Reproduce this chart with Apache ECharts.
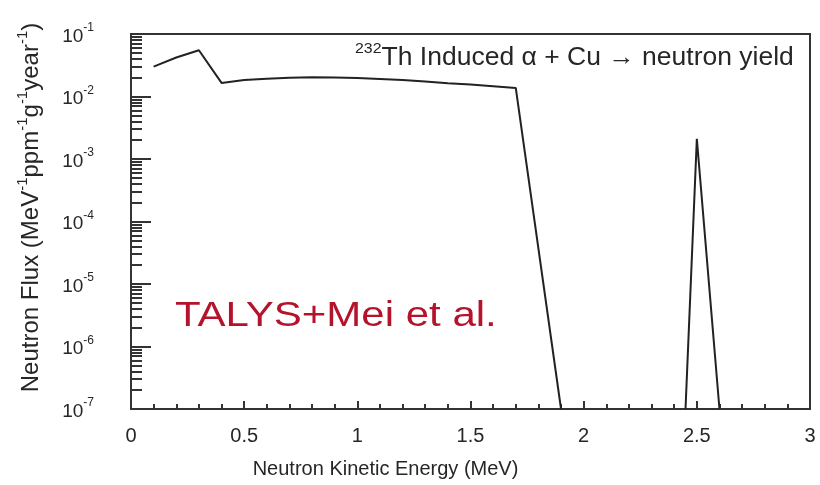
<!DOCTYPE html>
<html>
<head>
<meta charset="utf-8">
<script src="https://cdn.jsdelivr.net/npm/echarts@6/dist/echarts.min.js"></script>
<style>html,body{margin:0;padding:0;background:#fff}#c{width:820px;height:485px}</style>
</head>
<body>
<div id="c"></div>
<script>
// Data (energy in MeV, flux in MeV^-1 ppm^-1 g^-1 year^-1)
var energy = [0.1, 0.2, 0.3, 0.4, 0.5, 0.6, 0.7, 0.8, 0.9, 1.0, 1.1, 1.2, 1.3, 1.4, 1.5, 1.6, 1.7, 1.9, 2.2, 2.45, 2.5, 2.6];
var flux   = [0.030, 0.042, 0.055, 0.0165, 0.0183, 0.0193, 0.0200, 0.0204, 0.0202, 0.0197, 0.0190, 0.0183, 0.0173, 0.0163, 0.0155, 0.0146, 0.0137, 1e-7, null, 1e-7, 0.0021, 1e-7];
var xTickLabels = ['0', '0.5', '1', '1.5', '2', '2.5', '3'];
var yExponents = [-7, -6, -5, -4, -3, -2, -1];
var titleSup = '232';
var titleMain = 'Th Induced \u03b1 + Cu \u2192 neutron yield';
var annotation = 'TALYS+Mei et al.';

var FONT = "'Liberation Sans', Arial, Helvetica, sans-serif";
var TXT = '#262626';

var seriesData = energy.map(function (e, i) { return [e, flux[i] === null ? '-' : flux[i]]; });
var majorY = yExponents.map(function (p) { return Math.pow(10, p); });
var minorY = [];
yExponents.slice(0, -1).forEach(function (p) {
  for (var m = 2; m <= 9; m++) minorY.push(m * Math.pow(10, p));
});

var chart = echarts.init(document.getElementById('c'), null, { renderer: 'canvas' });
chart.setOption({
  animation: false,
  backgroundColor: '#fff',
  textStyle: { fontFamily: FONT },
  grid: { left: 131, top: 34, right: 10, bottom: 76, show: true, borderColor: '#333', borderWidth: 2, backgroundColor: 'transparent' },
  xAxis: {
    type: 'value', min: 0, max: 3, interval: 0.5,
    axisLine: { show: true, lineStyle: { color: '#333', width: 2 } },
    axisTick: { show: true, inside: true, length: 8, lineStyle: { color: '#333', width: 2 } },
    minorTick: { show: true, splitNumber: 5, length: 5, lineStyle: { color: '#333', width: 2 } },
    splitLine: { show: false },
    axisLabel: {
      margin: 17, fontSize: 20, color: TXT, fontFamily: FONT,
      formatter: function (v) { var i = Math.round(v / 0.5); return xTickLabels[i]; }
    },
    name: 'Neutron Kinetic Energy (MeV)',
    nameLocation: 'middle', nameGap: 50,
    nameTextStyle: { fontSize: 20, color: TXT, fontFamily: FONT, padding: [0, 170, 0, 0] }
  },
  yAxis: [{
    type: 'log', logBase: 10, min: 1e-7, max: 1e-1,
    axisLine: { show: true, lineStyle: { color: '#333', width: 2 } },
    axisTick: { show: true, inside: true, length: 20, customValues: majorY, lineStyle: { color: '#333', width: 2 } },
    splitLine: { show: false },
    axisLabel: {
      margin: 37, color: TXT, fontFamily: FONT,
      formatter: function (v) { return '{b|10}{s|' + Math.round(Math.log10(v)) + '}'; },
      rich: {
        b: { fontSize: 19, color: TXT, fontFamily: FONT, verticalAlign: 'bottom', lineHeight: 24 },
        s: { fontSize: 12, color: TXT, fontFamily: FONT, verticalAlign: 'top', lineHeight: 13 }
      }
    },
    name: '{n|Neutron Flux (MeV}{s|-1}{n|ppm}{s|-1}{n|g}{s|-1}{n|year}{s|-1}{n|)}',
    nameLocation: 'middle', nameGap: 88, nameRotate: 90,
    nameTextStyle: {
      color: TXT, fontFamily: FONT, padding: [0, 0, 0, 28],
      rich: {
        n: { fontSize: 24, color: TXT, fontFamily: FONT, verticalAlign: 'bottom', lineHeight: 28 },
        s: { fontSize: 15, color: TXT, fontFamily: FONT, verticalAlign: 'top', lineHeight: 15 }
      }
    }
  }, {
    type: 'log', logBase: 10, min: 1e-7, max: 1e-1, position: 'left',
    axisLine: { show: false },
    axisTick: { show: true, inside: true, length: 11, customValues: minorY, lineStyle: { color: '#333', width: 2 } },
    axisLabel: { show: false },
    splitLine: { show: false }
  }],
  series: [{
    type: 'line',
    data: seriesData,
    showSymbol: false,
    connectNulls: false,
    clip: true,
    lineStyle: { color: '#222', width: 2 },
    z: 3
  }],
  graphic: [{
    type: 'text', x: 355, y: 41, scaleX: 1.06, originX: 0, z: 10,
    style: {
      text: '{s|' + titleSup + '}{m|' + titleMain + '}',
      fontFamily: FONT,
      rich: {
        s: { fontSize: 15, fill: TXT, fontFamily: FONT, verticalAlign: 'top', lineHeight: 16 },
        m: { fontSize: 25, fill: TXT, fontFamily: FONT, verticalAlign: 'bottom', lineHeight: 30 }
      }
    }
  }, {
    type: 'text', x: 175, y: 316, scaleX: 1.2, originX: 0, z: 10,
    style: { text: annotation, fontSize: 35, fill: '#b5122b', fontFamily: FONT, verticalAlign: 'middle', align: 'left' }
  }]
});
</script>
</body>
</html>
